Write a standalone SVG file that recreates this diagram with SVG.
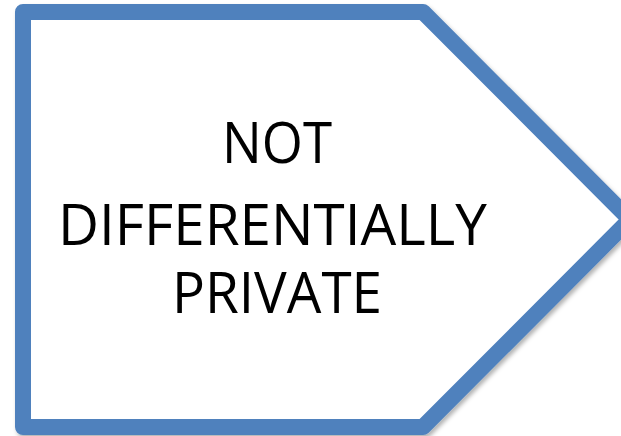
<svg xmlns="http://www.w3.org/2000/svg" width="621" height="436" viewBox="0 0 621 436">
  <style>
    .lbl { font-family: "Open Sans", "Noto Sans", sans-serif; font-size: 56px; fill: #000; text-anchor: middle; }
  </style>
  <defs>
    <filter id="sh" x="-10%" y="-10%" width="120%" height="120%">
      <feDropShadow dx="2" dy="3" stdDeviation="2" flood-color="#000" flood-opacity="0.3"/>
    </filter>
  </defs>
  <rect width="621" height="436" fill="#fff"/>
  <g id="pentagon">
    <polygon points="23,12 423,12 630,219.5 423,427 23,427" fill="#fff" stroke="#4F81BD" stroke-width="16" stroke-linejoin="round" filter="url(#sh)"/>
    <text class="lbl" x="277" y="163" textLength="110" lengthAdjust="spacingAndGlyphs">NOT</text>
    <text class="lbl" x="272.5" y="245" textLength="429" lengthAdjust="spacingAndGlyphs">DIFFERENTIALLY</text>
    <text class="lbl" x="277" y="313" textLength="210" lengthAdjust="spacingAndGlyphs">PRIVATE</text>
  </g>
  <g id="connectors"/>
</svg>
